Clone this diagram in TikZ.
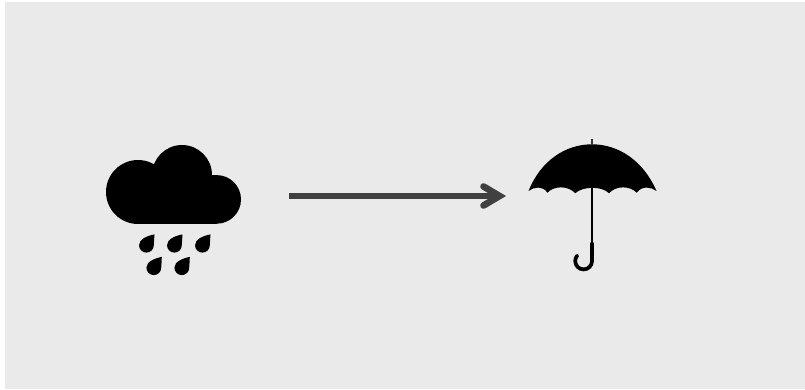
\documentclass[tikz,border=0pt]{standalone}
\usetikzlibrary{calc}
\definecolor{bgc}{HTML}{EAEAEA}
\definecolor{arrc}{HTML}{404040}
\tikzset{
  iconfill/.style={fill=black,draw=none},
  shaftline/.style={draw=arrc,line width=4},
  headline/.style={draw=arrc,line width=5,line cap=round,line join=miter},
}
\begin{document}
\begin{tikzpicture}[x=0.75pt,y=-0.75pt]
\useasboundingbox (0,0) rectangle (805,389);
\fill[white] (0,0) rectangle (805,389);
\fill[bgc] (5,2) rectangle (805,389);
% cloud
\fill[iconfill] (138,192) circle[radius=32];
\fill[iconfill] (182,175) circle[radius=30];
\fill[iconfill] (216.7,199.4) circle[radius=24.3];
\fill[iconfill] (138,175) rectangle (216.7,223.7);
% drops
\foreach \dx/\dy in {146.4/245.2,174.4/245.2,202.4/245.2,153.8/267.7,181.8/267.7}{
  \fill[iconfill] (\dx+8,\dy-10.8) .. controls (\dx+1,\dy-9.5) and (\dx-7.4,\dy-6) .. (\dx-7.4,\dy)
    .. controls (\dx-7.4,\dy+4.1) and (\dx-4.1,\dy+7.4) .. (\dx,\dy+7.4)
    .. controls (\dx+4.1,\dy+7.4) and (\dx+7.4,\dy+4.1) .. (\dx+7.4,\dy)
    .. controls (\dx+7.6,\dy-4) and (\dx+8,\dy-7) .. (\dx+8,\dy-10.8) -- cycle;
}
% umbrella
\fill[iconfill] (528.5,191)
  .. controls (541,160) and (566,144.3) .. (592,144.3)
  .. controls (618,144.3) and (643,160) .. (656.5,191)
  .. controls (651,186.8) and (642,185.5) .. (636.7,192.7)
  .. controls (630,185.5) and (616,185.5) .. (609,193.2)
  .. controls (602,186) and (583,186) .. (575.3,193.2)
  .. controls (568,185.5) and (554,185.5) .. (547.4,192.7)
  .. controls (543,185.5) and (534,186.8) .. (528.5,191) -- cycle;
\draw[black!80,line width=1.5] (592,138.5) -- (592,145);
\draw[black,line width=2] (592,187) -- (592,243);
\draw[black,line width=2.8,line cap=round] (592,243) -- (592,261) arc[start angle=0,end angle=180+40,radius=8.4];
% arrow
\coordinate (shaftstart) at (289,196);
\coordinate (tip) at (499.5,196);
\draw[shaftline] (shaftstart) -- (tip);
\draw[headline] ($(tip)+(-16,-9.5)$) -- (tip) -- ($(tip)+(-16,9.5)$);
\end{tikzpicture}
\end{document}
